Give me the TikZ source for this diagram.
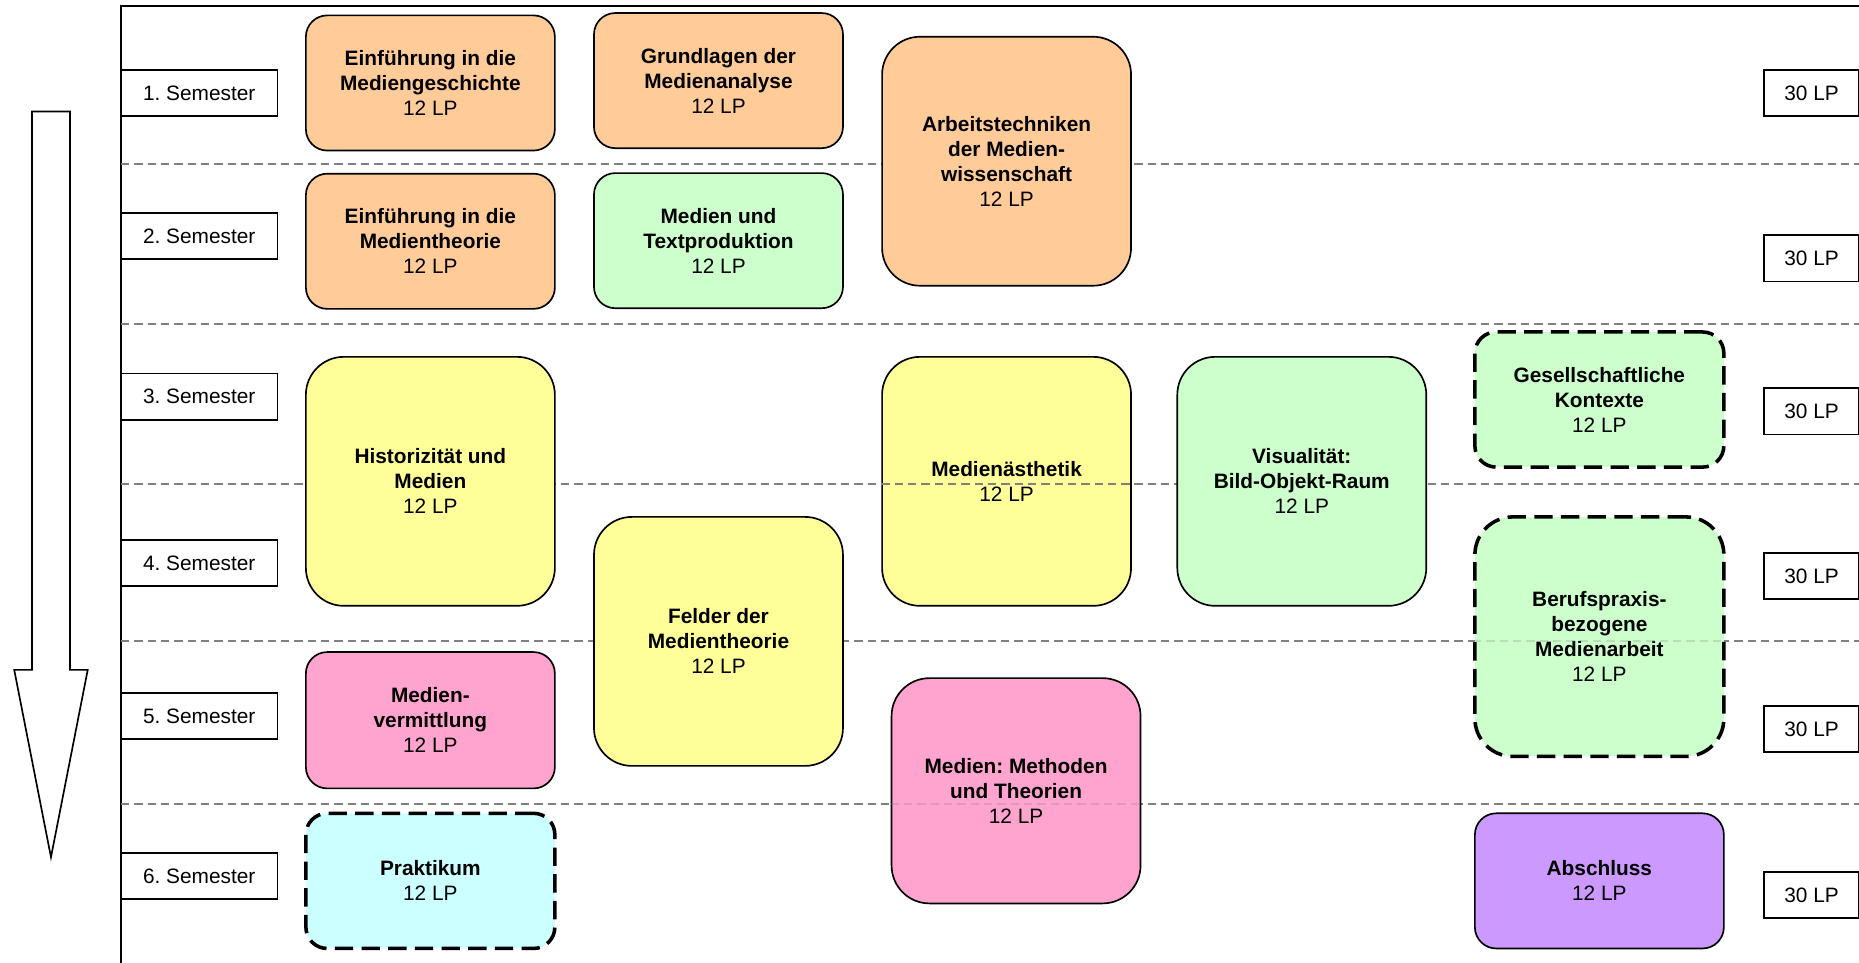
\documentclass[tikz,border=0pt]{standalone}
\usepackage{fontspec}
\setmainfont{Liberation Sans}
\usetikzlibrary{positioning}
\frenchspacing

\definecolor{orange}{HTML}{FFCC99}
\definecolor{gruen}{HTML}{CCFFCC}
\definecolor{gelb}{HTML}{FFFF99}
\definecolor{rosa}{HTML}{FFA3CF}
\definecolor{tuerkis}{HTML}{CCFFFF}
\definecolor{lila}{HTML}{CC99FF}

\tikzset{
	modul/.style={draw=black, line width=0.4pt, minimum width=2.1cm, inner sep=0pt, align=center,
		font=\fontsize{5}{6}\selectfont\bfseries},
	klein/.style={modul, rounded corners=0.18cm, minimum height=1.14cm},
	gross/.style={modul, rounded corners=0.32cm, minimum height=2.1cm},
	wahl/.style={line width=0.85pt, dash pattern=on 4.4pt off 2pt},
	semester/.style={draw=black, fill=white, line width=0.4pt, minimum width=1.32cm, minimum height=0.39cm,
		inner sep=0pt, font=\fontsize{5}{6}\selectfont},
	punkte/.style={semester, minimum width=0.8cm},
	raster/.style={gray, line width=0.45pt, dash pattern=on 2pt off 1.2pt}
}

\begin{document}
\begin{tikzpicture}[yscale=-1]
	
	\pgfdeclarelayer{fg}
	\pgfsetlayers{main,fg}
	
	\useasboundingbox (0,0) rectangle (15.68,8.12);
	
	% Rahmen und Semestergrenzen
	\draw[line width=0.6pt] (1.02,8.2) -- (1.02,0.05) -- (15.8,0.05);
	\coordinate (g1l) at (1.02,1.38); \coordinate (g1r) at (15.8,1.38);
	\coordinate (g2l) at (1.02,2.73); \coordinate (g2r) at (15.8,2.73);
	\coordinate (g3l) at (1.02,4.08); \coordinate (g3r) at (15.8,4.08);
	\coordinate (g4l) at (1.02,5.41); \coordinate (g4r) at (15.8,5.41);
	\coordinate (g5l) at (1.02,6.78); \coordinate (g5r) at (15.8,6.78);
	\draw[raster] (g1l) -- (g1r);
	\draw[raster] (g2l) -- (g2r);
	\draw[raster] (g3l) -- (g3r);
	\draw[raster] (g4l) -- (g4r);
	\draw[raster] (g5l) -- (g5r);
	
	% Zeitpfeil
	\draw[line width=0.4pt] (0.27,0.94) -- (0.59,0.94) -- (0.59,5.65) -- (0.74,5.65) -- (0.43,7.23)
		-- (0.12,5.65) -- (0.27,5.65) -- cycle;
	
	% Semester
	\node[semester] (sem1) at (1.68,0.785) {1. Semester};
	\node[semester] (sem2) at (1.68,1.99) {2. Semester};
	\node[semester] (sem3) at (1.68,3.345) {3. Semester};
	\node[semester] (sem4) at (1.68,4.75) {4. Semester};
	\node[semester] (sem5) at (1.68,6.04) {5. Semester};
	\node[semester] (sem6) at (1.68,7.39) {6. Semester};
	
	% Leistungspunkte
	\node[punkte] (lp1) at (15.28,0.785) {30 LP};
	\node[punkte] (lp2) at (15.28,2.18) {30 LP};
	\node[punkte] (lp3) at (15.28,3.47) {30 LP};
	\node[punkte] (lp4) at (15.28,4.86) {30 LP};
	\node[punkte] (lp5) at (15.28,6.15) {30 LP};
	\node[punkte] (lp6) at (15.28,7.55) {30 LP};
	
	% Module
	\node[klein, fill=orange] (geschichte) at (3.63,0.70) {Einführung in die\\Mediengeschichte\\\mdseries 12 LP};
	\node[klein, fill=orange] (analyse) at (6.06,0.68) {Grundlagen der\\Medienanalyse\\\mdseries 12 LP};
	\node[gross, fill=orange] (arbeitstechnik) at (8.49,1.36) {Arbeitstechniken\\der Medien-\\wissenschaft\\\mdseries 12 LP};
	\node[klein, fill=orange] (theorie) at (3.63,2.035) {Einführung in die\\Medientheorie\\\mdseries 12 LP};
	\node[klein, fill=gruen] (textprod) at (6.06,2.03) {Medien und\\Textproduktion\\\mdseries 12 LP};
	
	\node[gross, fill=gelb] (historizitaet) at (3.63,4.06) {Historizität und\\Medien\\\mdseries 12 LP};
	\node[gross, fill=gelb] (aesthetik) at (8.49,4.06) {Medienästhetik\\\mdseries 12 LP};
	\node[gross, fill=gruen] (visualitaet) at (10.98,4.06) {Visualität:\\Bild-Objekt-Raum\\\mdseries 12 LP};
	\node[klein, fill=gruen, wahl] (kontexte) at (13.49,3.37) {Gesellschaftliche\\Kontexte\\\mdseries 12 LP};
	\node[gross, fill=gelb] (felder) at (6.06,5.41) {Felder der\\Medientheorie\\\mdseries 12 LP};
	\node[gross, fill=gruen, wahl, minimum height=2.02cm] (beruf) at (13.49,5.37) {Berufspraxis-\\bezogene\\Medienarbeit\\\mdseries 12 LP};
	
	\node[klein, fill=rosa, minimum height=1.15cm] (vermittlung) at (3.63,6.075) {Medien-\\vermittlung\\\mdseries 12 LP};
	\node[gross, fill=rosa, minimum height=1.9cm] (methoden) at (8.57,6.67) {Medien: Methoden\\und Theorien\\\mdseries 12 LP};
	\node[klein, fill=tuerkis, wahl] (praktikum) at (3.63,7.43) {Praktikum\\\mdseries 12 LP};
	\node[klein, fill=lila] (abschluss) at (13.49,7.43) {Abschluss\\\mdseries 12 LP};
	
	\begin{pgfonlayer}{fg}
	\draw[raster] (aesthetik.west |- g3l) -- (aesthetik.east |- g3l);
	\draw[raster, draw opacity=0.25] (beruf.west |- g4l) -- (beruf.east |- g4l);
	\draw[raster, draw opacity=0.25] (methoden.west |- g5l) -- (methoden.east |- g5l);
	\end{pgfonlayer}
	
\end{tikzpicture}
\end{document}
